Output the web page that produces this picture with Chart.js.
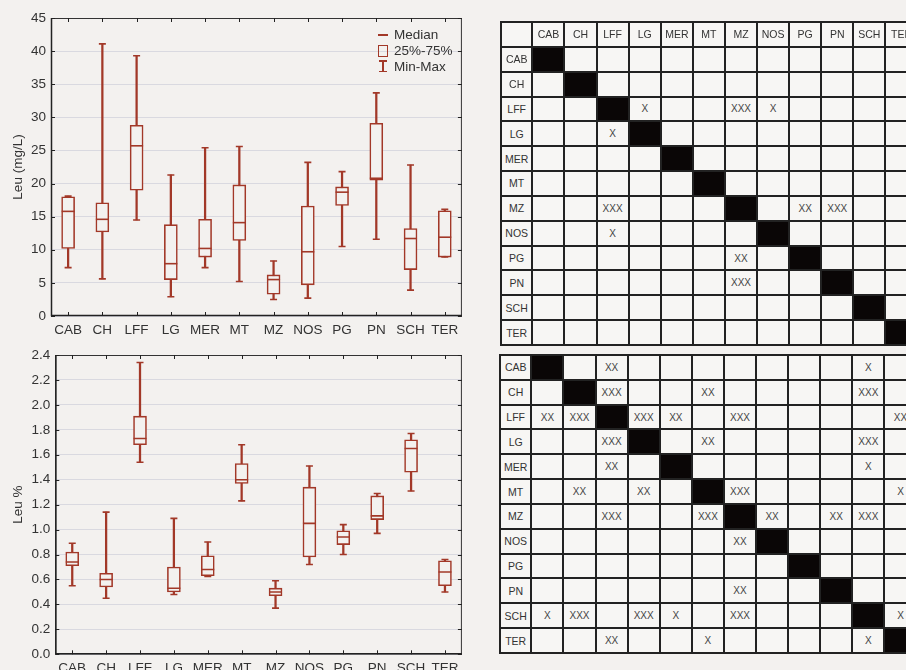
<!DOCTYPE html>
<html>
<head>
<meta charset="utf-8">
<script src="https://cdn.jsdelivr.net/npm/chart.js@4.4.1/dist/chart.umd.min.js"></script>
<style>
  html, body { margin: 0; padding: 0; background: #f3f1ef; width: 906px; height: 670px; overflow: hidden;
    font-family: "Liberation Sans", Arial, sans-serif; }
  canvas { position: absolute; left: 0; }
  #topChart { top: 0; }
  #botChart { top: 340px; }
  .lgText { position: absolute; left: 394px; font-size: 13.5px; line-height: 16px; color: #333; }
  .ic { position: absolute; background: #a23828; }
  .icBox { position: absolute; border: 1.5px solid #a23828; box-sizing: border-box; }
  table { position: absolute; border-collapse: collapse; table-layout: fixed; }
  td { border: 2px solid #222; background: #f7f6f4; padding: 0; text-align: center; vertical-align: middle;
    font-size: 10.5px; color: #333; overflow: hidden; white-space: nowrap; }
  td.diag { background: #0a0606; }
  td.mark { font-size: 10px; color: #444; }
</style>
</head>
<body>
<canvas id="topChart" width="470" height="340"></canvas>
<canvas id="botChart" width="470" height="340"></canvas>

<div class="ic" style="left:378px;top:34px;width:10px;height:1.5px"></div>
<div class="lgText" style="top:27px">Median</div>
<div class="icBox" style="left:378px;top:44.5px;width:10px;height:12px"></div>
<div class="lgText" style="top:43px">25%-75%</div>
<div class="ic" style="left:379px;top:60px;width:8px;height:1.5px"></div>
<div class="ic" style="left:382.3px;top:60px;width:1.5px;height:12px"></div>
<div class="ic" style="left:379px;top:70.8px;width:8px;height:1.5px"></div>
<div class="lgText" style="top:59px">Min-Max</div>

<table id="tabMg" style="left:500px;top:21px"></table>
<table id="tabPct" style="left:499px;top:354px"></table>

<script>
const categories = ['CAB', 'CH', 'LFF', 'LG', 'MER', 'MT', 'MZ', 'NOS', 'PG', 'PN', 'SCH', 'TER'];

// Leu (mg/L)
const mgMin    = [7.3, 5.6, 14.5, 2.9, 7.3, 5.2, 2.5, 2.7, 10.5, 11.6, 3.9, 8.9];
const mgQ1     = [10.2, 12.7, 19.0, 5.5, 8.9, 11.4, 3.3, 4.7, 16.7, 20.5, 7.0, 8.9];
const mgMedian = [15.8, 14.6, 25.7, 7.9, 10.2, 14.1, 5.5, 9.7, 18.7, 20.8, 11.7, 11.9];
const mgQ3     = [18.0, 17.1, 28.8, 13.8, 14.6, 19.8, 6.2, 16.6, 19.5, 29.1, 13.2, 15.9];
const mgMax    = [18.1, 41.1, 39.3, 21.3, 25.4, 25.6, 8.3, 23.2, 21.8, 33.7, 22.8, 16.1];

// Leu %
const pctMin    = [0.55, 0.45, 1.54, 0.48, 0.625, 1.23, 0.37, 0.72, 0.80, 0.97, 1.31, 0.50];
const pctQ1     = [0.71, 0.54, 1.68, 0.50, 0.63, 1.37, 0.47, 0.78, 0.88, 1.08, 1.46, 0.55];
const pctMedian = [0.74, 0.60, 1.73, 0.53, 0.68, 1.40, 0.50, 1.05, 0.94, 1.11, 1.65, 0.66];
const pctQ3     = [0.82, 0.65, 1.91, 0.70, 0.79, 1.53, 0.53, 1.34, 0.99, 1.27, 1.72, 0.75];
const pctMax    = [0.89, 1.14, 2.34, 1.09, 0.90, 1.68, 0.59, 1.51, 1.04, 1.29, 1.77, 0.76];

// significance marks, one row per category (same order as columns)
const sigMg = [
  ['', '', '', '', '', '', '', '', '', '', '', ''],
  ['', '', '', '', '', '', '', '', '', '', '', ''],
  ['', '', '', 'X', '', '', 'XXX', 'X', '', '', '', ''],
  ['', '', 'X', '', '', '', '', '', '', '', '', ''],
  ['', '', '', '', '', '', '', '', '', '', '', ''],
  ['', '', '', '', '', '', '', '', '', '', '', ''],
  ['', '', 'XXX', '', '', '', '', '', 'XX', 'XXX', '', ''],
  ['', '', 'X', '', '', '', '', '', '', '', '', ''],
  ['', '', '', '', '', '', 'XX', '', '', '', '', ''],
  ['', '', '', '', '', '', 'XXX', '', '', '', '', ''],
  ['', '', '', '', '', '', '', '', '', '', '', ''],
  ['', '', '', '', '', '', '', '', '', '', '', '']
];
const sigPct = [
  ['', '', 'XX', '', '', '', '', '', '', '', 'X', ''],
  ['', '', 'XXX', '', '', 'XX', '', '', '', '', 'XXX', ''],
  ['XX', 'XXX', '', 'XXX', 'XX', '', 'XXX', '', '', '', '', 'XX'],
  ['', '', 'XXX', '', '', 'XX', '', '', '', '', 'XXX', ''],
  ['', '', 'XX', '', '', '', '', '', '', '', 'X', ''],
  ['', 'XX', '', 'XX', '', '', 'XXX', '', '', '', '', 'X'],
  ['', '', 'XXX', '', '', 'XXX', '', 'XX', '', 'XX', 'XXX', ''],
  ['', '', '', '', '', '', 'XX', '', '', '', '', ''],
  ['', '', '', '', '', '', '', '', '', '', '', ''],
  ['', '', '', '', '', '', 'XX', '', '', '', '', ''],
  ['X', 'XXX', '', 'XXX', 'X', '', 'XXX', '', '', '', '', 'X'],
  ['', '', 'XX', '', '', 'X', '', '', '', '', 'X', '']
];

const red = '#a23828';
const plotBg = '#f3f1ef';
const fontFam = '"Liberation Sans", Arial, sans-serif';

// frame round the plot with small inward ticks
const framePlugin = {
  id: 'frame',
  afterDatasetsDraw(chart) {
    const { ctx, chartArea: a, scales } = chart;
    ctx.save();
    ctx.strokeStyle = '#333';
    ctx.lineWidth = 1;
    ctx.strokeRect(a.left + 0.5, a.top + 0.5, a.right - a.left - 1, a.bottom - a.top - 1);
    ctx.lineWidth = 1.5;
    ctx.strokeStyle = '#222';
    ctx.beginPath();
    ctx.moveTo(a.left + 0.5, a.top);
    ctx.lineTo(a.left + 0.5, a.bottom - 0.5);
    ctx.lineTo(a.right, a.bottom - 0.5);
    ctx.stroke();
    ctx.lineWidth = 1;
    ctx.beginPath();
    scales.y.ticks.forEach((t, i) => {
      const y = Math.round(scales.y.getPixelForTick(i)) + 0.5;
      ctx.moveTo(a.left, y); ctx.lineTo(a.left + 4, y);
      ctx.moveTo(a.right - 4, y); ctx.lineTo(a.right, y);
    });
    scales.x.ticks.forEach((t, i) => {
      const x = Math.round(scales.x.getPixelForTick(i)) + 0.5;
      ctx.moveTo(x, a.bottom); ctx.lineTo(x, a.bottom - 4);
      ctx.moveTo(x, a.top); ctx.lineTo(x, a.top + 4);
    });
    ctx.stroke();
    ctx.restore();
  }
};

function boxChart(id, stats, opts) {
  const [mins, q1s, meds, q3s, maxs] = stats;
  return new Chart(document.getElementById(id), {
    type: 'bar',
    data: {
      labels: categories,
      datasets: [
        {
          type: 'bar', order: 4, grouped: false,
          data: categories.map((c, i) => [mins[i], maxs[i]]),
          backgroundColor: red, barThickness: 1.6
        },
        {
          type: 'bar', order: 3, grouped: false,
          data: categories.map((c, i) => [q1s[i], q3s[i]]),
          backgroundColor: plotBg, borderColor: red, borderWidth: 1.6,
          borderSkipped: false, barThickness: opts.boxW
        },
        {
          type: 'line', order: 2, showLine: false, data: mins,
          pointStyle: 'line', pointRadius: 3.5, pointBorderColor: red, pointBorderWidth: 1.6
        },
        {
          type: 'line', order: 2, showLine: false, data: maxs,
          pointStyle: 'line', pointRadius: 3.5, pointBorderColor: red, pointBorderWidth: 1.6
        },
        {
          type: 'line', order: 1, showLine: false, data: meds,
          pointStyle: 'line', pointRadius: opts.boxW / 2, pointBorderColor: red, pointBorderWidth: 1.6
        }
      ]
    },
    options: {
      responsive: false,
      animation: false,
      layout: { padding: opts.pad },
      plugins: { legend: { display: false }, tooltip: { enabled: false } },
      scales: {
        x: {
          offset: true,
          grid: { display: false, drawTicks: false },
          border: { display: false },
          ticks: { color: '#333', font: { family: fontFam, size: 13.5 }, padding: 6, maxRotation: 0, autoSkip: false },
          afterFit: (s) => { s.height = opts.xH; }
        },
        y: {
          min: 0, max: opts.max,
          grid: { color: '#d9d9e0', drawTicks: false },
          border: { display: false },
          ticks: {
            stepSize: opts.step, color: '#333', padding: 5,
            font: { family: fontFam, size: 13.5 },
            callback: opts.fmt
          },
          title: {
            display: true, text: opts.title, color: '#333',
            font: { family: fontFam, size: 13.5 }, padding: { top: 10, bottom: 0 }
          },
          afterFit: (s) => { s.width = opts.yW; }
        }
      }
    },
    plugins: [framePlugin]
  });
}

boxChart('topChart', [mgMin, mgQ1, mgMedian, mgQ3, mgMax], {
  max: 45, step: 5, title: 'Leu (mg/L)', fmt: (v) => v,
  pad: { top: 18, right: 5, left: 0, bottom: 0 }, yW: 51, xH: 24, boxW: 13
});
boxChart('botChart', [pctMin, pctQ1, pctMedian, pctQ3, pctMax], {
  max: 2.4, step: 0.2, title: 'Leu %', fmt: (v) => v.toFixed(1),
  pad: { top: 15, right: 4.3, left: 0, bottom: 0 }, yW: 55.3, xH: 25.7, boxW: 13
});

function buildTable(id, marks, withHeader, rowH) {
  const tab = document.getElementById(id);
  let html = '<colgroup><col style="width:31.4px">' + categories.map(() => '<col style="width:32.1px">').join('') + '</colgroup>';
  if (withHeader) {
    html += '<tr style="height:' + rowH + 'px"><td></td>' + categories.map((c) => '<td>' + c + '</td>').join('') + '</tr>';
  }
  categories.forEach((r, i) => {
    html += '<tr style="height:' + rowH + 'px"><td>' + r + '</td>';
    marks[i].forEach((m, j) => {
      html += i === j ? '<td class="diag"></td>' : '<td class="mark">' + m + '</td>';
    });
    html += '</tr>';
  });
  tab.innerHTML = html;
  tab.style.width = (31.4 + 32.1 * categories.length) + 'px';
}
buildTable('tabMg', sigMg, true, 24.85);
buildTable('tabPct', sigPct, false, 24.83);
</script>
</body>
</html>
